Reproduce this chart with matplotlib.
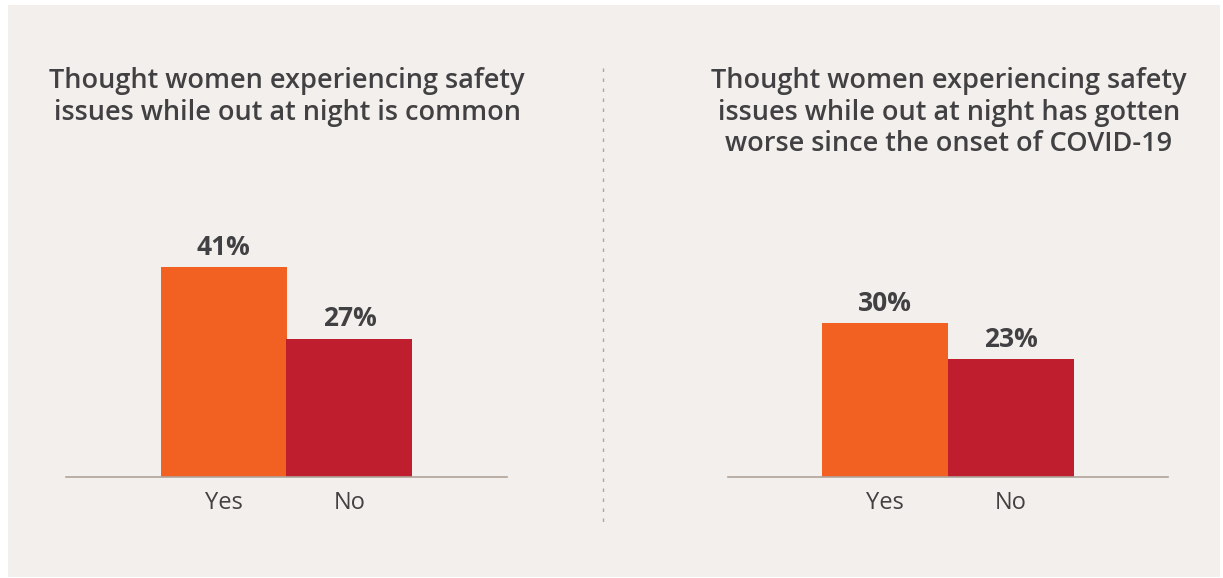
import matplotlib.pyplot as plt
from matplotlib.patches import Rectangle
from matplotlib.lines import Line2D

categories = ["Yes", "No"]
common_pct = [41, 27]
worse_pct = [30, 23]
titles = [
    "Thought women experiencing safety\nissues while out at night is common",
    "Thought women experiencing safety\nissues while out at night has gotten\nworse since the onset of COVID-19",
]

BG = "#f3efec"
TEXT = "#414042"
BASE = "#b0a49a"
bar_colors = ["#f26122", "#be1e2d"]

plt.rcParams["font.family"] = ["Open Sans", "DejaVu Sans"]

W, H = 1223, 578
fig = plt.figure(figsize=(W / 100, H / 100), dpi=100)
fig.patch.set_facecolor("white")
fig.patches.append(Rectangle((8 / W, 1 / H), (1220 - 8) / W, (573 - 1) / H,
                             transform=fig.transFigure, facecolor=BG,
                             edgecolor="none", zorder=-10))


def draw_panel(left_px, width_px, values, title, title_x):
    # baseline at y=477px, 50% spans 256px
    ax = fig.add_axes([left_px / W, (H - 477) / H, width_px / W, 256 / H])
    ax.patch.set_alpha(0)
    x = list(range(len(categories)))
    ax.bar(x, values, width=1.0, color=bar_colors, zorder=2)
    ax.set_xlim(-1.25, 2.25)
    ax.set_ylim(0, 50)
    for s in ["top", "right", "left"]:
        ax.spines[s].set_visible(False)
    ax.spines["bottom"].set_color(BASE)
    ax.spines["bottom"].set_linewidth(1.2)
    ax.set_yticks([])
    ax.set_xticks(x)
    ax.set_xticklabels(categories, fontsize=17, color=TEXT)
    ax.tick_params(axis="x", length=0, pad=10)
    for xi, v in zip(x, values):
        ax.annotate(f"{v}%", (xi, v), xytext=(0, 9), textcoords="offset points",
                    ha="center", va="baseline", fontsize=19, fontweight="bold",
                    color=TEXT)
    fig.text(title_x / W, 1 - 67 / H, title, ha="center", va="top",
             fontsize=19.5, fontweight="semibold", color=TEXT, linespacing=1.17,
             multialignment="center")
    return ax


draw_panel(66, 441, common_pct, titles[0], 287)
draw_panel(728, 440, worse_pct, titles[1], 949)

fig.lines.append(Line2D([603 / W, 603 / W], [1 - 68 / H, 1 - 522 / H],
                        transform=fig.transFigure, color=BASE, lw=1.0,
                        dashes=(2.5, 4.7)))

fig.savefig("out.png", dpi=100, facecolor=fig.get_facecolor())
